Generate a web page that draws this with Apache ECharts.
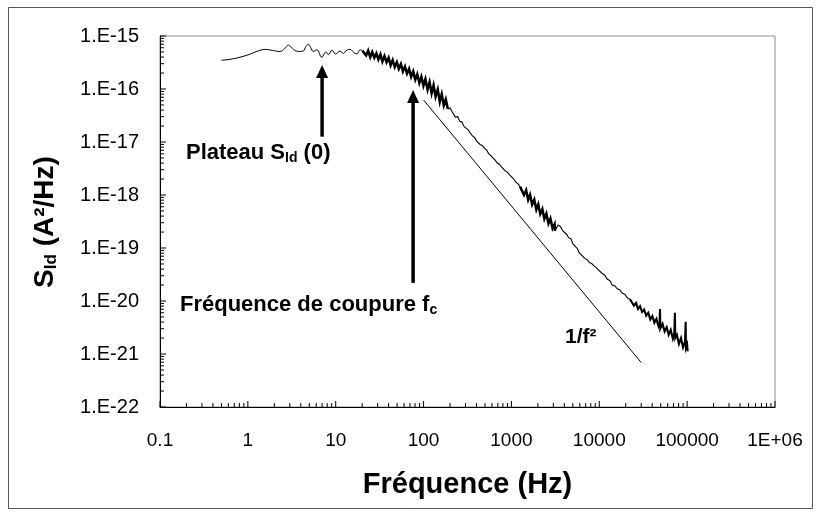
<!DOCTYPE html>
<html><head><meta charset="utf-8">
<script src="https://cdn.jsdelivr.net/npm/echarts/dist/echarts.min.js"></script>
<style>html,body{margin:0;padding:0;background:#fff}#c{width:820px;height:514px}</style>
</head><body><div id="c"></div>
<script>
// Low-frequency plateau (smooth part)
const plateauFreq = [0.5,0.7,1.0,1.3,1.57,1.9,2.33,2.6,2.9,3.2,3.45,3.9,4.26,4.6,4.89,5.2,5.57,6.1,6.95,7.71,8.26,9.03,10,11.2,12.2,13.4,14.6,16,17.4,19,20.1];
const plateauSid = [3.48e-16,3.75e-16,4.4e-16,5.2e-16,5.6e-16,5.35e-16,5.1e-16,5.7e-16,6.7e-16,5.9e-16,5.3e-16,5.1e-16,5.2e-16,6.4e-16,7.0e-16,6.0e-16,5.1e-16,5.5e-16,3.96e-16,5.0e-16,4.45e-16,5.4e-16,4.6e-16,5.2e-16,4.7e-16,5.4e-16,5.6e-16,4.9e-16,4.6e-16,5.5e-16,5.3e-16];
// Dense noisy band, 20 Hz - 190 Hz
const bandLowFreq = [20.1,21,22.2,23.4,24.7,26,27.5,29,30.6,32.3,34,35.9,37.9,40,42.2,44.5,47,49.6,52.3,55.2,58.2,61.4,64.8,68.4,72.2,76.2,80.4,84.8,89.5,94.4,99.6,105,111,117,123.5,130,137,145,153,161,170,179,189];
const bandLowSid = [5.3e-16,5.6e-16,4.3e-16,5.3e-16,4.0e-16,5.0e-16,3.9e-16,4.7e-16,3.6e-16,4.5e-16,3.3e-16,4.2e-16,3.2e-16,3.9e-16,2.8e-16,3.5e-16,2.6e-16,3.2e-16,2.4e-16,2.95e-16,2.15e-16,2.65e-16,1.95e-16,2.4e-16,1.7e-16,2.15e-16,1.5e-16,1.9e-16,1.3e-16,1.7e-16,1.15e-16,1.55e-16,9.8e-17,1.35e-16,8.3e-17,1.18e-16,7.2e-17,9.8e-17,5.7e-17,8.0e-17,4.9e-17,6.4e-17,4.2e-17];
// Thin wiggly part, 190 Hz - 1.25 kHz
const thinMidFreq = [189,200,210,218,230,245,258,272,290,305,320,338,360,380,400,417,440,465,495,524,550,580,615,650,690,730,770,802,850,900,950,1007,1060,1120,1190,1253];
const thinMidSid = [4.2e-17,4.4e-17,3.8e-17,3.7e-17,2.95e-17,3.0e-17,2.45e-17,2.4e-17,1.95e-17,1.8e-17,1.72e-17,1.5e-17,1.3e-17,1.22e-17,1.05e-17,1.0e-17,9.0e-18,8.6e-18,7.6e-18,7.0e-18,6.0e-18,5.6e-18,5.0e-18,4.6e-18,4.0e-18,3.8e-18,3.4e-18,3.2e-18,2.85e-18,2.7e-18,2.4e-18,2.2e-18,2.0e-18,1.75e-18,1.62e-18,1.44e-18];
// Dense noisy band, 1.25 kHz - 3.1 kHz
const bandMidFreq = [1253,1320,1390,1470,1550,1630,1720,1820,1920,2020,2130,2250,2370,2500,2640,2780,2940,3100,3133];
const bandMidSid = [1.44e-18,1.52e-18,1.0e-18,1.24e-18,8.1e-19,1.01e-18,6.6e-19,8.2e-19,5.3e-19,6.7e-19,4.4e-19,5.4e-19,3.55e-19,4.45e-19,2.9e-19,3.6e-19,2.35e-19,2.8e-19,2.1e-19];
// Thin wiggly part, 3.1 kHz - 22 kHz
const thinHighFreq = [3133,3388,3600,3850,4050,4259,4500,4750,5000,5293,5600,5900,6200,6530,6900,7300,7700,8200,8700,9200,9700,10190,10800,11500,12300,13240,14000,15000,16000,17190,18300,19500,20800,22340];
const thinHighSid = [2.1e-19,2.72e-19,2.55e-19,2.1e-19,2.0e-19,1.8e-19,1.55e-19,1.5e-19,1.2e-19,1.08e-19,9.8e-20,8.2e-20,7.6e-20,6.9e-20,6.3e-20,6.0e-20,5.3e-20,5.1e-20,4.6e-20,4.3e-20,3.9e-20,3.7e-20,3.3e-20,3.1e-20,2.6e-20,2.4e-20,2.0e-20,1.95e-20,1.7e-20,1.62e-20,1.4e-20,1.35e-20,1.15e-20,1.08e-20];
// Dense noisy band with spikes, 22 kHz - 100 kHz
const bandHighFreq = [22340,23500,24800,26200,27600,29100,30700,32400,34200,36100,38100,40200,42400,44700,47200,48600,49080,49500,52500,55400,58500,61700,65100,68700,71500,72600,73200,76400,80600,85100,89800,94700,96200,97000,99900,101400];
const bandHighSid = [1.08e-20,1.06e-20,8.2e-21,9.2e-21,7.1e-21,8.0e-21,6.2e-21,6.9e-21,5.3e-21,6.0e-21,4.5e-21,5.2e-21,3.9e-21,4.6e-21,3.35e-21,3.9e-21,7.06e-21,3.0e-21,3.7e-21,2.65e-21,3.2e-21,2.3e-21,2.85e-21,1.95e-21,2.55e-21,6.01e-21,2.0e-21,2.3e-21,1.55e-21,2.0e-21,1.33e-21,1.72e-21,4.06e-21,1.3e-21,1.5e-21,1.12e-21];
// 1/f^2 reference line
const fitFreq = [100, 30000];
const fitSid = [6.2e-17, 6.9e-22];
// Arrows: [frequency, tail value, tip value]
const arrowPlateau = [7, 1.26e-17, 2.84e-16];
const arrowCutoff = [76, 2.2e-20, 9.6e-17];
// Axis tick labels
const xTickLabels = ['0.1','1','10','100','1000','10000','100000','1E+06'];
const yTickLabels = ['1.E-22','1.E-21','1.E-20','1.E-19','1.E-18','1.E-17','1.E-16','1.E-15'];
const xMin = 0.1, xMax = 1e6, yMin = 1e-22, yMax = 1e-15;

const minorMult = [2,3,4,5,6,7,8,9];
const xMinor = [], yMinor = [];
for (let e = -1; e < 6; e++) minorMult.forEach(m => xMinor.push(m * Math.pow(10, e)));
for (let e = -22; e < -15; e++) minorMult.forEach(m => yMinor.push(m * Math.pow(10, e)));
const xMajor = xTickLabels.map((_, i) => Math.pow(10, i - 1));
const yMajor = yTickLabels.map((_, i) => Math.pow(10, i - 22));

const zip = (a, b) => a.map((v, i) => [v, b[i]]);
const F = '"Liberation Sans", Arial, sans-serif';

const chart = echarts.init(document.getElementById('c'));

function arrowRender(params, api) {
  const p0 = api.coord([api.value(0), api.value(1)]);
  const p1 = api.coord([api.value(0), api.value(2)]);
  const hw = 6, hh = 13;
  return {type: 'group', children: [
    {type: 'line', shape: {x1: p0[0], y1: p0[1], x2: p1[0], y2: p1[1] + hh - 1}, style: {stroke: '#000', lineWidth: 3.5}},
    {type: 'polygon', shape: {points: [[p1[0], p1[1]], [p1[0] - hw, p1[1] + hh], [p1[0] + hw, p1[1] + hh]]}, style: {fill: '#000'}}
  ]};
}
const tickSeries = (vals, isX, len) => ({
  type: 'custom', data: vals.map(v => isX ? [v, yMin] : [xMin, v]), encode: {x: 0, y: 1}, clip: false, z: 5, silent: true,
  renderItem: (p, api) => {
    const c = api.coord([api.value(0), api.value(1)]);
    return {type: 'line', shape: isX ? {x1: c[0], y1: c[1], x2: c[0], y2: c[1] - len} : {x1: c[0], y1: c[1], x2: c[0] + len, y2: c[1]},
      style: {stroke: '#000', lineWidth: 1}};
  }
});
const lineSeries = (f, s, w, smooth) => ({type: 'line', data: zip(f, s), smooth: smooth || false, showSymbol: false, symbol: 'none',
  lineStyle: {color: '#000', width: w, join: 'miter'}, z: 3, silent: true});

chart.setOption({
  animation: false,
  backgroundColor: '#fff',
  grid: {left: 160, right: 45, top: 36, bottom: 107, show: true, borderColor: '#8c8c8c', borderWidth: 1, outerBoundsMode: 'none'},
  xAxis: {
    type: 'log', logBase: 10, min: xMin, max: xMax,
    axisLine: {show: true, onZero: false, lineStyle: {color: '#000', width: 1}},
    axisTick: {show: false}, minorTick: {show: false}, splitLine: {show: false},
    axisLabel: {color: '#000', fontFamily: F, fontSize: 19, margin: 24,
      formatter: v => v <= 0 ? '' : (xTickLabels[Math.round(Math.log10(v)) + 1] || '')},
    name: 'Fréquence (Hz)', nameLocation: 'middle', nameGap: 63,
    nameTextStyle: {color: '#000', fontFamily: F, fontWeight: 'bold', fontSize: 29}
  },
  yAxis: {
    type: 'log', logBase: 10, min: yMin, max: yMax,
    axisLine: {show: true, onZero: false, lineStyle: {color: '#000', width: 1}},
    axisTick: {show: false}, minorTick: {show: false}, splitLine: {show: false},
    axisLabel: {show: false}
  },
  series: [
    lineSeries(plateauFreq, plateauSid, 1, 0.4),
    lineSeries(bandLowFreq, bandLowSid, 2.5),
    lineSeries(thinMidFreq, thinMidSid, 1.1),
    lineSeries(bandMidFreq, bandMidSid, 2.5),
    lineSeries(thinHighFreq, thinHighSid, 1.1),
    lineSeries(bandHighFreq, bandHighSid, 2.1),
    lineSeries(fitFreq, fitSid, 1),
    {type: 'custom', renderItem: arrowRender, data: [arrowPlateau, arrowCutoff], encode: {x: 0, y: [1, 2]}, z: 4, silent: true},
    tickSeries(xMinor, true, 4), tickSeries(xMajor, true, 6),
    tickSeries(yMinor, false, 4), tickSeries(yMajor, false, 6),
    // y tick labels placed through the y scale
    {type: 'custom', data: yMajor.map(v => [xMin, v]), encode: {x: 0, y: 1}, clip: false, z: 5, silent: true,
      renderItem: (p, api) => {
        const c = api.coord([api.value(0), api.value(1)]);
        return {type: 'text', x: c[0] - 21, y: c[1], style: {text: yTickLabels[p.dataIndex], fill: '#000',
          font: '20px ' + F, align: 'right', verticalAlign: 'middle'}};
      }}
  ],
  graphic: [
    {type: 'rect', shape: {x: 8.5, y: 7.5, width: 804, height: 501}, style: {fill: 'none', stroke: '#555', lineWidth: 1}, silent: true},
    {type: 'text', x: 45, y: 222, rotation: Math.PI / 2, style: {text: '{s|S}{sub|Id}{s| (A²/Hz)}', align: 'center', verticalAlign: 'middle', rich: {
      s: {fontFamily: F, fontWeight: 'bold', fontSize: 28, fill: '#000'},
      sub: {fontFamily: F, fontWeight: 'bold', fontSize: 17, fill: '#000', padding: [12, 0, 0, 0]}}}},
    {type: 'text', left: 186, top: 142, style: {text: '{b|Plateau S}{sub|Id}{b| (0)}', rich: {
      b: {fontFamily: F, fontWeight: 'bold', fontSize: 22, fill: '#000'},
      sub: {fontFamily: F, fontWeight: 'bold', fontSize: 14, fill: '#000', padding: [10, 0, 0, 0]}}}},
    {type: 'text', left: 180, top: 294, style: {text: '{b|Fréquence de coupure f}{sub|c}', rich: {
      b: {fontFamily: F, fontWeight: 'bold', fontSize: 22, fill: '#000'},
      sub: {fontFamily: F, fontWeight: 'bold', fontSize: 14, fill: '#000', padding: [10, 0, 0, 0]}}}},
    {type: 'text', left: 565, top: 327, style: {text: '1/f²', fontFamily: F, fontWeight: 'bold', fontSize: 21, fill: '#000'}}
  ]
});
</script></body></html>
